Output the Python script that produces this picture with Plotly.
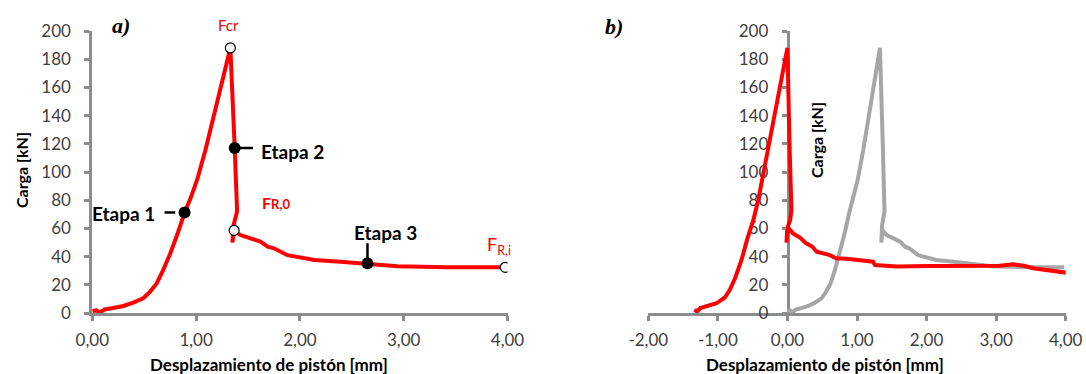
import plotly.graph_objects as go

# ---- data -------------------------------------------------------------
# Test 1: load vs. piston displacement (panel a, and grey curve in panel b)
a_disp = [0.0, 0.04, 0.07, 0.12, 0.2, 0.3, 0.4, 0.49, 0.55, 0.62, 0.68, 0.75,
          0.82, 0.889, 0.95, 1.01, 1.09, 1.2, 1.33, 1.372, 1.395, 1.36, 1.35,
          1.362, 1.366, 1.427, 1.52, 1.62, 1.69, 1.75, 1.88, 2.14, 2.39, 2.651,
          2.94, 3.42, 3.978]
a_load = [1.4, 1.8, 0.3, 2.5, 3.5, 5.0, 7.5, 10.4, 14.5, 21, 30, 42,
          56, 71.2, 82, 94.5, 115.6, 148, 188, 117, 72, 62, 50,
          57, 58.6, 55.3, 53, 50.6, 47, 45.9, 41, 37.6, 36.4, 35.2,
          33.2, 32.4, 32.4]

# Shifted record (panel b, red)
b_disp = [-1.334, -1.30, -1.25, -1.15, -1.02, -0.90, -0.83, -0.75, -0.66, -0.58,
          -0.49, -0.42, -0.30, -0.16, 0.0, 0.03, 0.057, 0.04, 0.01, -0.014,
          -0.005, 0.02, 0.08, 0.18, 0.27, 0.36, 0.42, 0.61, 0.70, 0.85, 0.99,
          1.23, 1.26, 1.57, 2.05, 2.6, 3.05, 3.25, 3.4, 3.53, 3.77, 4.01]
b_load = [2.6, 1.0, 3.5, 5.0, 6.9, 11, 16.3, 25, 37.6, 52,
          66, 80, 111, 147, 188, 120, 73, 66, 62, 50,
          58, 60, 56.5, 53.5, 49.4, 47, 43.5, 41, 38.8, 38.5, 37.6,
          36.4, 34, 32.9, 33.3, 33.3, 33.5, 34.5, 33.5, 31.7, 30, 28.6]

# Characteristic forces (open circles)
key_names = ["Fcr", "FR,0", "FR,i"]
key_disp = [1.33, 1.366, 3.978]
key_load = [188, 58.6, 32.4]

# Stages (filled dots)
stage_names = ["Etapa 1", "Etapa 2", "Etapa 3"]
stage_disp = [0.889, 1.372, 2.651]
stage_load = [71.2, 117, 35.2]

# Axis ticks
y_ticks = [0, 20, 40, 60, 80, 100, 120, 140, 160, 180, 200]
y_ticktext = ["0", "20", "40", "60", "80", "100", "120", "140", "160", "180", "200"]
xa_ticks = [0, 1, 2, 3, 4]
xa_ticktext = ["0,00", "1,00", "2,00", "3,00", "4,00"]
xb_ticks = [-2, -1, 0, 1, 2, 3, 4]
xb_ticktext = ["-2,00", "-1,00", "0,00", "1,00", "2,00", "3,00", "4,00"]

# ---- styling ----------------------------------------------------------
W, H = 1086, 374
RED = "#ff0000"
GREY = "#a6a6a6"
AXIS = "#8c8c8c"
TICKFONT = dict(family="Lato", size=17, color="#404040")
FONT = "Lato"

def px_x(p):
    return p / W

def px_y(p):
    return 1 - p / H

fig = go.Figure()

# panel a
fig.add_trace(go.Scatter(x=a_disp, y=a_load, mode="lines",
                         line=dict(color=RED, width=4), xaxis="x", yaxis="y",
                         hoverinfo="skip"))
fig.add_trace(go.Scatter(x=stage_disp, y=stage_load, mode="markers",
                         marker=dict(color="black", size=12), xaxis="x", yaxis="y"))
fig.add_trace(go.Scatter(x=key_disp, y=key_load, mode="markers",
                         marker=dict(color="white", size=10,
                                     line=dict(color="black", width=1.2)),
                         xaxis="x", yaxis="y"))

# panel b
fig.add_trace(go.Scatter(x=a_disp, y=a_load, mode="lines",
                         line=dict(color=GREY, width=4), xaxis="x2", yaxis="y2"))
fig.add_trace(go.Scatter(x=b_disp, y=b_load, mode="lines",
                         line=dict(color=RED, width=4), xaxis="x2", yaxis="y2"))

axis_common = dict(showline=True, linecolor=AXIS, linewidth=3, ticks="outside",
                   ticklen=5, tickwidth=3, tickcolor=AXIS, showgrid=False,
                   zeroline=False, tickfont=TICKFONT, layer="below traces",
                   fixedrange=True, automargin=False)

y_dom = [px_y(313), px_y(31)]

fig.update_layout(
    width=W, height=H, margin=dict(l=0, r=0, t=0, b=0, autoexpand=False),
    paper_bgcolor="white", plot_bgcolor="white", showlegend=False,
    xaxis=dict(axis_common, domain=[px_x(92.3), px_x(507.5)], range=[0, 4],
               tickvals=xa_ticks, ticktext=xa_ticktext, anchor="y",
               ticklabelstandoff=5),
    yaxis=dict(axis_common, domain=y_dom, range=[0, 200], tickvals=y_ticks,
               ticktext=y_ticktext, anchor="x", ticklabelstandoff=10),
    xaxis2=dict(axis_common, domain=[px_x(648.3), px_x(1065.7)], range=[-2, 4],
                tickvals=xb_ticks, ticktext=xb_ticktext, anchor="y2",
                ticklabelstandoff=5),
    yaxis2=dict(axis_common, domain=y_dom, range=[0, 200], tickvals=y_ticks,
                ticktext=y_ticktext, anchor="free", position=px_x(787.7),
                ticklabelstandoff=10),
)

ann = []
centered = dict(xref="paper", yref="paper", showarrow=False,
                xanchor="center", yanchor="middle")
# axis titles
xtitle_font = dict(family=FONT, size=17, color="black", weight="bold")
ytitle_font = dict(family=FONT, size=16, color="black", weight="bold")
ann.append(dict(centered, text="Desplazamiento de pistón [mm]", x=px_x(268.6),
                y=px_y(364), font=xtitle_font))
ann.append(dict(centered, text="Desplazamiento de pistón [mm]", x=px_x(825),
                y=px_y(364), font=xtitle_font))
ann.append(dict(centered, text="Carga [kN]", x=px_x(21), y=px_y(170),
                textangle=-90, font=ytitle_font))
ann.append(dict(centered, text="Carga [kN]", x=px_x(817), y=px_y(140),
                textangle=-90, font=ytitle_font))
# panel letters
panel_font = dict(family="Liberation Serif", size=22, color="black",
                  weight="bold", style="italic")
ann.append(dict(centered, text="a)", x=px_x(121), y=px_y(25), font=panel_font))
ann.append(dict(centered, text="b)", x=px_x(614), y=px_y(26), font=panel_font))

# stage labels
stage_font = dict(family=FONT, size=19, color="black", weight="bold")
ann.append(dict(text=stage_names[0], x=stage_disp[0], y=stage_load[0], xref="x",
                yref="y", showarrow=False, xanchor="right", yanchor="middle",
                xshift=-27.6, yshift=-1, font=stage_font))
ann.append(dict(text=stage_names[1], x=stage_disp[1], y=stage_load[1], xref="x",
                yref="y", showarrow=False, xanchor="left", yanchor="middle",
                xshift=24.7, yshift=-3, font=stage_font))
ann.append(dict(text=stage_names[2], x=stage_disp[2], y=stage_load[2], xref="x",
                yref="y", showarrow=False, xanchor="center", yanchor="middle",
                xshift=18.3, yshift=30.6, font=stage_font))

# characteristic force labels
ann.append(dict(text=key_names[0], x=key_disp[0], y=key_load[0], xref="x",
                yref="y", showarrow=False, xanchor="center", yanchor="middle",
                xshift=-1.7, yshift=22.7,
                font=dict(family=FONT, size=15, color=RED)))
ann.append(dict(text="F<span style='font-size:13px'>R,0</span>", x=key_disp[1],
                y=key_load[1], xref="x", yref="y", showarrow=False,
                xanchor="center", yanchor="middle", xshift=42, yshift=28,
                font=dict(family=FONT, size=16, color=RED, weight="bold")))
ann.append(dict(text="F<sub>R,i</sub>", x=key_disp[2], y=key_load[2], xref="x",
                yref="y", showarrow=False, xanchor="center", yanchor="middle",
                xshift=-6.5, yshift=22, font=dict(family=FONT, size=18, color=RED)))
fig.update_layout(annotations=ann)

# connector lines between stage dots and their labels (pixel offsets)
conn = [(-20, -9.3, 0, 0), (0, 18.4, 0, 0), (0, 0, 3, 20)]
for (x0, x1, y0, y1), sx, sy in zip(conn, stage_disp, stage_load):
    fig.add_shape(type="line", xref="x", yref="y", xsizemode="pixel",
                  ysizemode="pixel", xanchor=sx, yanchor=sy, x0=x0, x1=x1,
                  y0=y0, y1=y1, line=dict(color="black", width=2.5), layer="below")

fig.write_html("out.html")
